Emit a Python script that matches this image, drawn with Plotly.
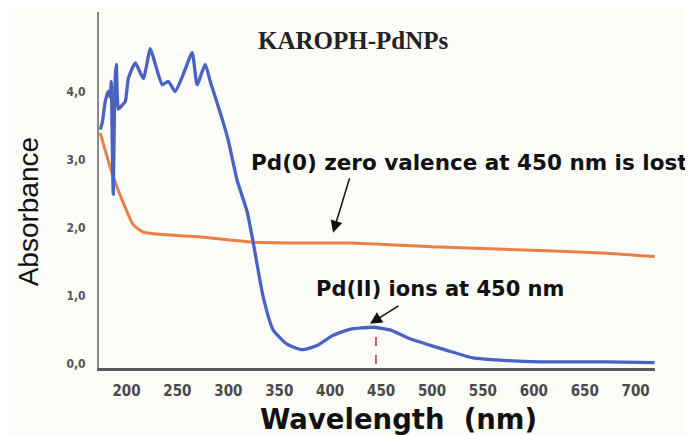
import plotly.graph_objects as go

# ---- data ----
blue_nm = [174.2, 176.2, 179.1, 182.1, 184.0, 185.0, 186.0, 187.0, 188.0, 189.0, 190.0, 191.0,
           192.0, 195.8, 198.8, 201.8, 208.7, 216.5, 223.4, 228.3, 235.2, 241.0, 247.8, 255.7,
           264.5, 269.4, 277.3, 282.2, 292.0, 299.8, 308.7, 318.5, 324.4, 334.2, 344.0, 357.7,
           372.4, 387.1, 402.8, 419.5, 442.1, 458.7, 475.4, 495.0, 514.6, 540.1, 573.5, 605.9,
           671.6, 718.7]
blue_abs = [3.45, 3.55, 3.86, 4.01, 3.93, 4.16, 3.25, 2.50, 3.55, 4.23, 4.41, 3.93,
            3.75, 3.81, 3.86, 4.20, 4.43, 4.20, 4.64, 4.41, 4.11, 4.16, 4.01, 4.26,
            4.58, 4.11, 4.41, 4.16, 3.70, 3.30, 2.70, 2.24, 1.79, 0.99, 0.50, 0.29,
            0.21, 0.27, 0.42, 0.51, 0.54, 0.50, 0.39, 0.29, 0.20, 0.09, 0.05, 0.03,
            0.03, 0.02]

orange_nm = [174.2, 186.0, 198.8, 206.6, 216.5, 240.0, 272.4, 304.7, 324.4, 370.5, 419.5,
             507.8, 605.9, 671.6, 718.7]
orange_abs = [3.40, 2.80, 2.30, 2.05, 1.94, 1.90, 1.87, 1.82, 1.79, 1.78, 1.78,
              1.72, 1.67, 1.63, 1.58]

x_ticks = [200, 250, 300, 350, 400, 450, 500, 550, 600, 650, 700]
x_tick_labels = ["200", "250", "300", "350", "400", "450", "500", "550", "600", "650", "700"]
y_ticks = [0, 1, 2, 3, 4]
y_tick_labels = ["0,0", "1,0", "2,0", "3,0", "4,0"]

peak_nm = 445
peak_abs = 0.54

title_text = "KAROPH-PdNPs"
note_pd0 = "Pd(0) zero valence at 450 nm is lost"
note_pd2 = "Pd(II) ions at 450 nm"

narrow = "DejaVu Sans Condensed, Liberation Sans Narrow, Arial Narrow, Liberation Sans"

fig = go.Figure()

fig.add_trace(go.Scatter(x=orange_nm, y=orange_abs, mode="lines",
                         line=dict(color="#eb7f45", width=3, shape="spline", smoothing=0.6),
                         showlegend=False, hoverinfo="skip"))
fig.add_trace(go.Scatter(x=blue_nm, y=blue_abs, mode="lines",
                         line=dict(color="#4a62c2", width=3.3, shape="spline", smoothing=0.5),
                         showlegend=False, hoverinfo="skip"))
fig.add_trace(go.Scatter(x=[peak_nm, peak_nm], y=[0, peak_abs], mode="lines",
                         line=dict(color="#c8283c", width=1.5, dash="dash"),
                         showlegend=False, hoverinfo="skip"))

# page body has an 8px margin: figure is shrunk so the plot lands where the reference has it
fig.update_layout(
    width=685, height=427,
    margin=dict(l=91, r=38, t=4, b=67),
    paper_bgcolor="#fcfcf8", plot_bgcolor="#fcfcf8",
    xaxis=dict(range=[173, 719], tickvals=x_ticks, ticktext=x_tick_labels,
               showgrid=False, zeroline=False,
               showline=True, linecolor="#5a5a5a", linewidth=3, ticks="",
               ticklabelstandoff=7,
               tickfont=dict(family=narrow, size=15, color="#4a4a4a", weight="bold")),
    yaxis=dict(range=[-0.06, 5.18], tickvals=y_ticks, ticktext=y_tick_labels,
               showgrid=False, zeroline=False, showline=True, linecolor="#8a8a8a",
               linewidth=2, ticks="", ticklabelstandoff=9,
               tickfont=dict(family=narrow, size=12, color="#555555", weight="bold")),
    annotations=[
        dict(text="<b>" + title_text + "</b>", x=423.4, y=4.76, xref="x", yref="y", showarrow=False,
             font=dict(family="Liberation Serif, Times New Roman", size=25, color="#222222"),
             xanchor="center", yanchor="middle"),
        dict(text="<b>" + note_pd0 + "</b>", x=537.2, y=2.97, xref="x", yref="y", showarrow=False,
             font=dict(family="DejaVu Sans", size=21.5, color="#111111"),
             xanchor="center", yanchor="middle"),
        dict(text="<b>" + note_pd2 + "</b>", x=507.8, y=1.107, xref="x", yref="y", showarrow=False,
             font=dict(family="DejaVu Sans", size=21, color="#111111"),
             xanchor="center", yanchor="middle"),
        dict(text="", x=402.8, y=1.93, xref="x", yref="y", showarrow=True,
             ax=17, ay=-56, arrowhead=2, arrowsize=1.6, arrowwidth=1.5, arrowcolor="#111111"),
        dict(text="", x=439.1, y=0.59, xref="x", yref="y", showarrow=True,
             ax=30, ay=-19, arrowhead=2, arrowsize=1.6, arrowwidth=1.5, arrowcolor="#111111"),
        dict(text="Absorbance", x=-0.1277, y=0.44, xref="paper", yref="paper",
             showarrow=False, textangle=-90,
             font=dict(family="Liberation Sans, Arial", size=28, color="#111111"),
             xanchor="center", yanchor="middle"),
        dict(text="<b>Wavelength  (nm)</b>", x=0.5387, y=-0.143, xref="paper", yref="paper",
             showarrow=False,
             font=dict(family="DejaVu Sans", size=27.5, color="#111111"),
             xanchor="center", yanchor="middle"),
    ],
)

fig.write_html("out.html")
